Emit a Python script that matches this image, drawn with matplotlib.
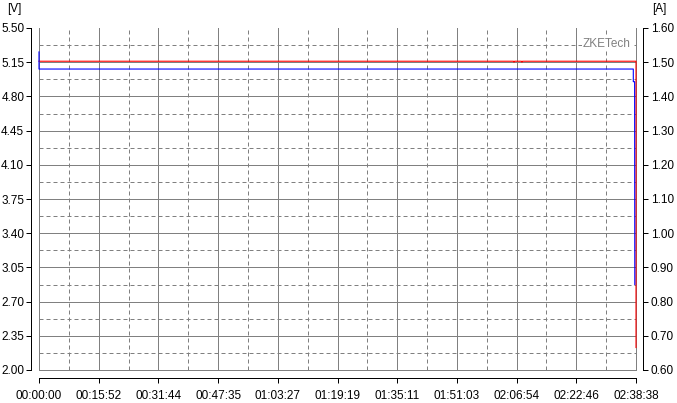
import matplotlib
matplotlib.use("Agg")
import matplotlib.pyplot as plt
from matplotlib import font_manager

# ---------------- data ----------------
total_s = 9518  # 02:38:38
x_tick_labels = ["00:00:00", "00:15:52", "00:31:44", "00:47:35", "01:03:27",
                 "01:19:19", "01:35:11", "01:51:03", "02:06:54", "02:22:46",
                 "02:38:38"]
v_ticks = [2.00, 2.35, 2.70, 3.05, 3.40, 3.75, 4.10, 4.45, 4.80, 5.15, 5.50]
a_ticks = [0.60, 0.70, 0.80, 0.90, 1.00, 1.10, 1.20, 1.30, 1.40, 1.50, 1.60]

volt_t = [0, 7565, 7573, 7581, 7692, 7700, 7708, 9518, 9518]
volt_v = [5.16, 5.16, 5.15, 5.16, 5.16, 5.15, 5.16, 5.16, 2.23]

curr_t = [0, 0, 9475, 9475, 9496, 9499]
curr_a = [1.53, 1.48, 1.48, 1.443, 1.443, 0.85]

# ---------------- style ----------------
names = {f.name for f in font_manager.fontManager.ttflist}
font = "Liberation Sans Narrow" if "Liberation Sans Narrow" in names else "Liberation Sans"
plt.rcParams["font.family"] = [font, "DejaVu Sans"]
plt.rcParams["font.size"] = 9

W, H = 677, 403
fig = plt.figure(figsize=(W / 100, H / 100), dpi=100)
fig.patch.set_facecolor("white")
L, R, T, B = 39, 636, 28, 370
ax = fig.add_axes([L / W, 1 - B / H, (R - L) / W, (B - T) / H])
ax.set_xlim(0, total_s)
ax.set_ylim(v_ticks[0], v_ticks[-1])
ax2 = ax.twinx()
ax2.set_ylim(a_ticks[0], a_ticks[-1])

px = 0.72
grid_c = "#808080"
x_pos = [total_s * i / (len(x_tick_labels) - 1) for i in range(len(x_tick_labels))]

# grid
for v in v_ticks[:-1]:
    ax.axhline(v, color=grid_c, lw=px, zorder=0.5, clip_on=False)
for a, b in zip(v_ticks[:-1], v_ticks[1:]):
    ax.axhline((a + b) / 2, color=grid_c, lw=px, ls=(0, (4, 3)), zorder=0.5)
for x in x_pos:
    ax.axvline(x, color=grid_c, lw=px, zorder=0.5, clip_on=False)
for a, b in zip(x_pos[:-1], x_pos[1:]):
    ax.axvline((a + b) / 2, color=grid_c, lw=px, ls=(0, (4, 3)), zorder=0.5)

# series
ax.plot(volt_t, volt_v, color="#ff0000", lw=0.8, zorder=3, clip_on=False)
ax2.plot(curr_t, curr_a, color="#0000ff", lw=0.8, zorder=3, clip_on=False)

# spines & ticks
for s in ["top", "right"]:
    ax.spines[s].set_visible(False)
for s in ["top", "left", "bottom"]:
    ax2.spines[s].set_visible(False)
ax.spines["left"].set_position(("outward", 6))
ax.spines["bottom"].set_position(("outward", 6))
ax2.spines["right"].set_position(("outward", 5))
for sp in [ax.spines["left"], ax.spines["bottom"], ax2.spines["right"]]:
    sp.set_color("black")
    sp.set_linewidth(px)

ax.set_yticks(v_ticks)
ax.set_yticklabels([f"{v:.2f}" for v in v_ticks])
ax2.set_yticks(a_ticks)
ax2.set_yticklabels([f"{a:.2f}" for a in a_ticks])
ax.set_xticks(x_pos)
ax.set_xticklabels(x_tick_labels)
ax.tick_params(axis="y", length=3.6, width=px, color="black", pad=1, labelsize=8.5)
ax.tick_params(axis="x", length=3.6, width=px, color="black", pad=4.5, labelsize=8.5)
ax2.tick_params(axis="y", length=3.6, width=px, color="black", pad=2, labelsize=8.5)

ax.set_facecolor("white")

# labels
fig.text(14 / W, 1 - 9 / H, "[V]", ha="center", va="center", fontsize=8.5)
fig.text(659 / W, 1 - 9 / H, "[A]", ha="center", va="center", fontsize=8.5)
ax.text((607 - L) / (R - L), (B - 44) / (B - T), "ZKETech", transform=ax.transAxes,
        ha="center", va="center", fontsize=8.5, color="#808080", zorder=2,
        bbox=dict(facecolor="white", edgecolor="none", pad=0.5))

fig.savefig("out.png", dpi=100, facecolor="white")
